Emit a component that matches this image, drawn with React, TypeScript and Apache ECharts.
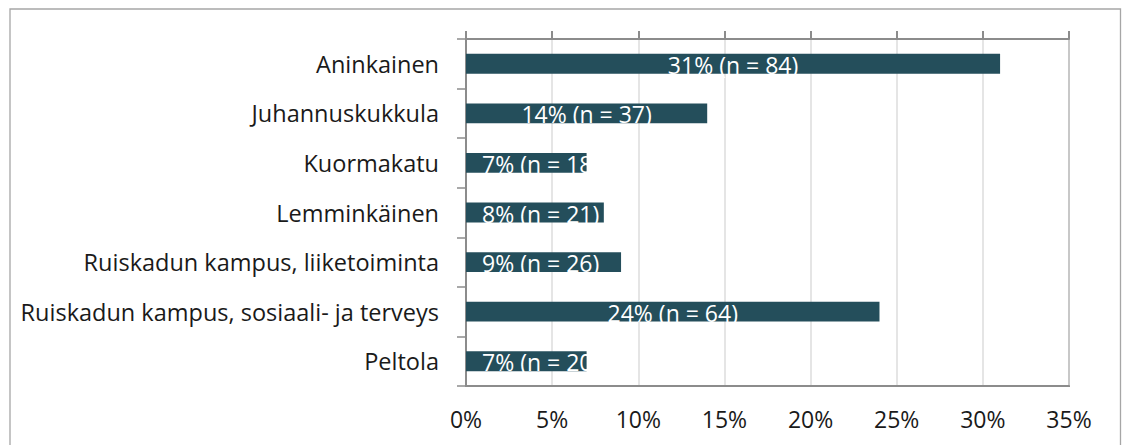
import React, { useEffect, useRef } from "react";
import * as echarts from "echarts";

const categories = [
  "Aninkainen",
  "Juhannuskukkula",
  "Kuormakatu",
  "Lemminkäinen",
  "Ruiskadun kampus, liiketoiminta",
  "Ruiskadun kampus, sosiaali- ja terveys",
  "Peltola",
];
const percentages = [31, 14, 7, 8, 9, 24, 7];
const counts = [84, 37, 18, 21, 26, 64, 20];
const xTicks = [0, 5, 10, 15, 20, 25, 30, 35];

const FONT = "'Open Sans', sans-serif";
const BAR = "#244E5B";
const AXIS = "#8C8C8C";
const GRIDLINE = "#DCDCDC";
const TEXT = "#1A1A1A";

export default function App() {
  const ref = useRef<HTMLDivElement>(null);
  useEffect(() => {
    document.body.style.margin = "0";
    if (!ref.current) return;
    const chart = echarts.init(ref.current, null, { renderer: "svg" });
    const data = percentages.map((v) => {
      const narrow = v < 10;
      return {
        value: v,
        label: narrow
          ? { position: "insideLeft", distance: 16 }
          : { position: "inside" },
      };
    });
    chart.setOption({
      animation: false,
      backgroundColor: "#ffffff",
      graphic: [
        {
          type: "rect",
          shape: { x: 10, y: 9, width: 1110.5, height: 460 },
          style: { fill: "none", stroke: "#A6A6A6", lineWidth: 1.3 },
          silent: true,
          z: 100,
        },
      ],
      grid: {
        left: 466,
        right: 53,
        top: 39,
        bottom: 59,
        show: true,
        borderColor: AXIS,
        borderWidth: 2,
        backgroundColor: "transparent",
      },
      xAxis: [
        {
          type: "value",
          position: "top",
          min: xTicks[0],
          max: xTicks[xTicks.length - 1],
          interval: 5,
          axisLine: { show: true, lineStyle: { color: AXIS, width: 2 } },
          axisTick: { show: true, inside: false, length: 8, lineStyle: { color: AXIS, width: 2 } },
          axisLabel: { show: false },
          splitLine: { show: true, lineStyle: { color: GRIDLINE, width: 1.5 } },
        },
        {
          type: "value",
          position: "bottom",
          min: xTicks[0],
          max: xTicks[xTicks.length - 1],
          interval: 5,
          axisLine: { show: true, lineStyle: { color: AXIS, width: 2 } },
          axisTick: { show: false },
          splitLine: { show: false },
          axisLabel: {
            show: true,
            margin: 21,
            color: TEXT,
            fontFamily: FONT,
            fontSize: 23,
            formatter: (v: number) => `${v}%`,
          },
        },
      ],
      yAxis: {
        type: "category",
        data: categories,
        inverse: true,
        axisLine: { show: true, lineStyle: { color: AXIS, width: 2 } },
        axisTick: { show: true, inside: false, length: 9, alignWithLabel: false, lineStyle: { color: AXIS, width: 1.5 } },
        axisLabel: {
          margin: 27,
          color: TEXT,
          fontFamily: FONT,
          fontSize: 23.5,
        },
        splitLine: { show: false },
      },
      series: [
        {
          type: "bar",
          xAxisIndex: 0,
          data,
          barCategoryGap: "60%",
          itemStyle: { color: BAR },
          label: {
            show: true,
            color: "#ffffff",
            fontFamily: FONT,
            fontSize: 23,
            offset: [0, 1],
            formatter: (p: any) => `${percentages[p.dataIndex]}% (n = ${counts[p.dataIndex]})`,
          },
          z: 3,
        },
      ],
    });
    return () => chart.dispose();
  }, []);
  return <div ref={ref} style={{ width: 1122, height: 445 }} />;
}
